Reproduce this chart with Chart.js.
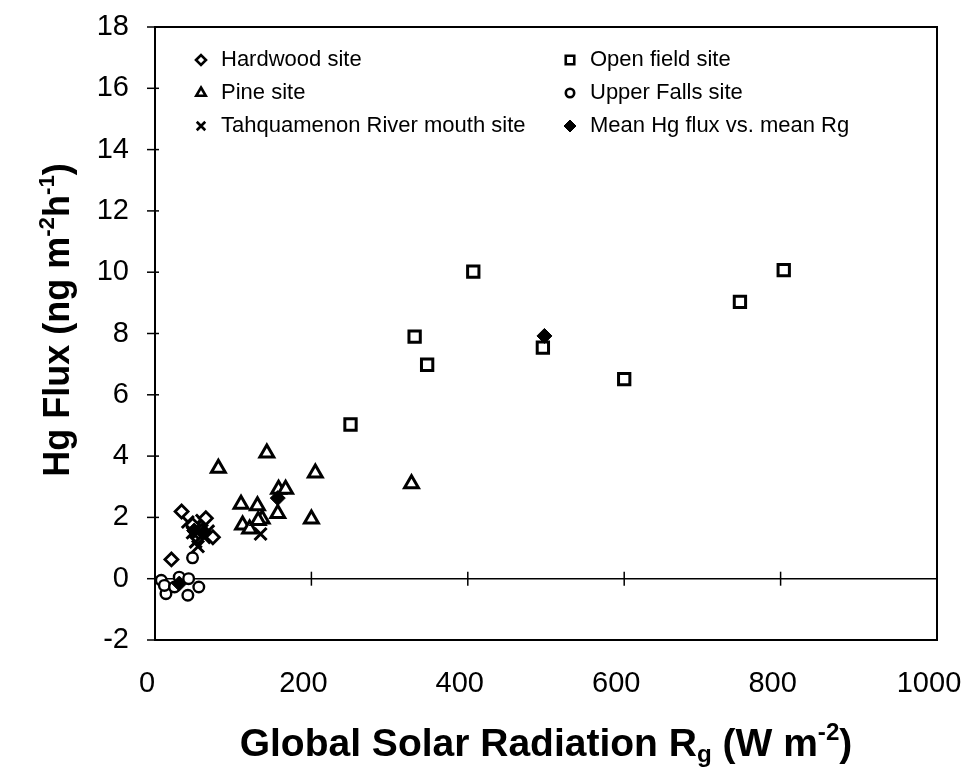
<!DOCTYPE html>
<html lang="en">
<head>
<meta charset="UTF-8">
<title>Hg Flux vs Global Solar Radiation</title>
<style>
  html, body { margin: 0; padding: 0; background: #fff; }
  canvas { display: block; }
</style>
</head>
<body>
<canvas id="grafico" width="962" height="769"></canvas>

<script src="https://cdn.jsdelivr.net/npm/chart.js"></script>
<script>
// values (x = Rg in W m-2, y = Hg flux in ng m-2 h-1)
const hardwoodX = [34, 65, 74, 21, 48, 60];
const hardwoodY = [2.19, 1.97, 1.35, 0.63, 1.75, 1.55];

const pineX = [81, 143, 205, 328, 110, 131, 158, 167, 157, 137, 200, 112, 121, 132];
const pineY = [3.6, 4.1, 3.45, 3.1, 2.43, 2.38, 2.92, 2.92, 2.13, 1.95, 1.95, 1.75, 1.62, 1.9];

const tahqX = [42, 48, 52, 56, 60, 63, 68, 55, 50, 135];
const tahqY = [1.85, 1.5, 1.2, 1.65, 1.9, 1.35, 1.55, 1.05, 1.7, 1.46];

const openX = [250, 332, 348, 407, 496, 600, 748, 804];
const openY = [5.03, 7.9, 6.98, 10.02, 7.54, 6.51, 9.03, 10.07];

const fallsX = [48, 8, 14, 12, 31, 43, 56, 42, 25];
const fallsY = [0.68, -0.05, -0.49, -0.22, 0.05, 0.0, -0.27, -0.54, -0.27];

const meanX = [31, 50, 63, 157, 498];
const meanY = [-0.16, 1.57, 1.52, 2.63, 7.92];

const xTicks = [0, 200, 400, 600, 800, 1000];
const yTicks = [-2, 0, 2, 4, 6, 8, 10, 12, 14, 16, 18];

function pts(xs, ys) {
  return xs.map((x, i) => ({ x: x, y: ys[i] }));
}

// label, data, marker style, marker size on the plot, size in the key, filled?
const series = [
  { label: 'Hardwood site', x: hardwoodX, y: hardwoodY, style: 'rectRot', r: 6.5, lr: 5, bw: 2.8, fill: false },
  { label: 'Pine site', x: pineX, y: pineY, style: 'triangle', r: 8, lr: 5.5, bw: 3, fill: false },
  { label: 'Tahquamenon River mouth site', x: tahqX, y: tahqY, style: 'crossRot', r: 8.5, lr: 6, bw: 3, fill: false },
  { label: 'Open field site', x: openX, y: openY, style: 'rect', r: 8, lr: 6, bw: 3, fill: false },
  { label: 'Upper Falls site', x: fallsX, y: fallsY, style: 'circle', r: 5.3, lr: 4.2, bw: 2.4, fill: false },
  { label: 'Mean Hg flux vs. mean Rg', x: meanX, y: meanY, style: 'rectRot', r: 7.5, lr: 6, bw: 1, fill: true }
];

const datasets = series.map((s, i) => ({
  label: s.label,
  data: pts(s.x, s.y),
  pointStyle: s.style,
  pointRadius: s.r,
  pointBorderWidth: s.bw,
  pointBorderColor: '#000',
  pointBackgroundColor: s.fill ? '#000' : '#fff',
  showLine: false,
  order: s.fill ? 0 : i + 1
}));

const fonte = '"Liberation Sans", Arial, Helvetica, sans-serif';

// draws text made of pieces: [text, 0 normal | 1 superscript | -1 subscript]
function textoRico(ctx, parts, size, cx, cy) {
  const small = size * 0.62;
  let total = 0;
  parts.forEach(p => {
    ctx.font = 'bold ' + (p[1] ? small : size) + 'px ' + fonte;
    total += ctx.measureText(p[0]).width;
  });
  let x = cx - total / 2;
  ctx.textAlign = 'left';
  ctx.textBaseline = 'alphabetic';
  parts.forEach(p => {
    ctx.font = 'bold ' + (p[1] ? small : size) + 'px ' + fonte;
    let dy = 0;
    if (p[1] === 1) dy = -size * 0.42;
    if (p[1] === -1) dy = size * 0.15;
    ctx.fillText(p[0], x, cy + dy);
    x += ctx.measureText(p[0]).width;
  });
}

const moldura = {
  id: 'moldura',
  beforeDatasetsDraw(chart) {
    const { ctx, chartArea: a, scales } = chart;
    const y0 = scales.y.getPixelForValue(0);
    ctx.save();
    ctx.strokeStyle = '#000';
    // zero line
    ctx.lineWidth = 1.5;
    ctx.beginPath();
    ctx.moveTo(a.left, y0);
    ctx.lineTo(a.right, y0);
    ctx.stroke();
    // x ticks sit on the zero line
    xTicks.slice(1, -1).forEach(v => {
      const px = scales.x.getPixelForValue(v);
      ctx.beginPath();
      ctx.moveTo(px, y0 - 7);
      ctx.lineTo(px, y0 + 7);
      ctx.stroke();
    });
    // y ticks cross the left axis
    yTicks.forEach(v => {
      const py = scales.y.getPixelForValue(v);
      ctx.beginPath();
      ctx.moveTo(a.left - 8, py);
      ctx.lineTo(a.left + 4, py);
      ctx.stroke();
    });
    ctx.restore();
  },
  afterDraw(chart) {
    const { ctx, chartArea: a } = chart;
    ctx.save();
    ctx.strokeStyle = '#000';
    ctx.lineWidth = 2;
    ctx.strokeRect(a.left, a.top, a.right - a.left, a.bottom - a.top);

    // axis titles
    ctx.fillStyle = '#000';
    textoRico(ctx, [['Global Solar Radiation R', 0], ['g', -1], [' (W m', 0], ['-2', 1], [')', 0]],
      39, (a.left + a.right) / 2, 756);
    ctx.save();
    ctx.translate(69, 320);
    ctx.rotate(-Math.PI / 2);
    textoRico(ctx, [['Hg Flux (ng m', 0], ['-2', 1], ['h', 0], ['-1', 1], [')', 0]], 36, 0, 0);
    ctx.restore();

    // key, two columns inside the plot
    const cols = [a.left + 46, a.left + 415];
    const rows = [a.top + 33, a.top + 66, a.top + 99];
    chart.data.datasets.forEach((ds, i) => {
      const s = series[i];
      const mx = cols[Math.floor(i / 3)];
      const my = rows[i % 3];
      ctx.fillStyle = s.fill ? '#000' : '#fff';
      ctx.strokeStyle = '#000';
      ctx.lineWidth = s.fill ? 1 : 2.6;
      Chart.helpers.drawPoint(ctx, { pointStyle: s.style, radius: s.lr, rotation: 0, borderWidth: ctx.lineWidth }, mx, my);
      ctx.fillStyle = '#000';
      ctx.font = '22px ' + fonte;
      ctx.textAlign = 'left';
      ctx.textBaseline = 'middle';
      ctx.fillText(ds.label, mx + 20, my);
    });
    ctx.restore();
  }
};

new Chart(document.getElementById('grafico'), {
  type: 'scatter',
  data: { datasets: datasets },
  options: {
    responsive: false,
    animation: false,
    devicePixelRatio: 1,
    layout: { padding: { top: 27, right: 25, left: 0, bottom: 0 } },
    plugins: { legend: { display: false }, tooltip: { enabled: false } },
    scales: {
      x: {
        type: 'linear',
        min: 0,
        max: 1000,
        afterBuildTicks: s => { s.ticks = xTicks.map(v => ({ value: v })); },
        grid: { display: false, drawTicks: false },
        border: { display: false },
        ticks: {
          color: '#000', font: { size: 29, family: fonte }, padding: 27, labelOffset: -8, maxRotation: 0,
          callback: v => String(v)
        },
        afterFit: s => { s.height = 129; s.paddingLeft = 0; s.paddingRight = 0; }
      },
      y: {
        min: -2,
        max: 18,
        afterBuildTicks: s => { s.ticks = yTicks.map(v => ({ value: v })); },
        grid: { display: false, drawTicks: false },
        border: { display: false },
        ticks: { color: '#000', font: { size: 29, family: fonte }, padding: 26 },
        afterFit: s => { s.width = 155; s.paddingTop = 0; s.paddingBottom = 0; }
      }
    }
  },
  plugins: [moldura]
});
</script>
</body>
</html>
